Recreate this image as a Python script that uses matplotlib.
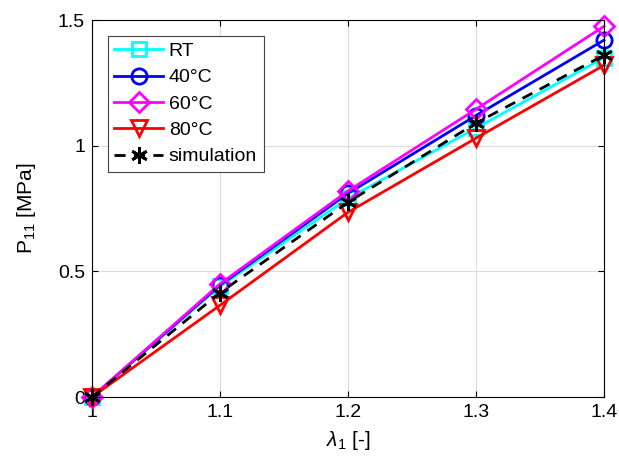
import matplotlib
matplotlib.use("Agg")
import matplotlib.pyplot as plt

plt.rcParams['font.family'] = ['Liberation Sans', 'DejaVu Sans']
plt.rcParams['mathtext.fontset'] = 'custom'
plt.rcParams['mathtext.rm'] = 'Liberation Sans'
plt.rcParams['mathtext.it'] = 'Liberation Sans:italic'

# stretch values and stress for each test temperature
stretch = [1.0, 1.1, 1.2, 1.3, 1.4]
p_rt = [0.0, 0.44, 0.79, 1.07, 1.35]
p_40 = [0.0, 0.445, 0.81, 1.12, 1.42]
p_60 = [0.0, 0.45, 0.82, 1.145, 1.475]
p_80 = [0.0, 0.365, 0.735, 1.03, 1.32]
p_sim = [0.0, 0.415, 0.775, 1.09, 1.36]

x_ticks = [1.0, 1.1, 1.2, 1.3, 1.4]
x_ticklabels = ['1', '1.1', '1.2', '1.3', '1.4']
y_ticks = [0.0, 0.5, 1.0, 1.5]
y_ticklabels = ['0', '0.5', '1', '1.5']

fig = plt.figure(figsize=(6.19, 4.74), dpi=100)
ax = fig.add_axes([0.1486, 0.1624, 0.8272, 0.7954])

#common line style for the measured curves
kw = dict(linewidth=2, markeredgewidth=2, markerfacecolor='none', clip_on=False)
ax.plot(stretch, p_rt, color='cyan', marker='s', markersize=10, label='RT', **kw)
ax.plot(stretch, p_40, color='blue', marker='o', markersize=11, label='40°C', **kw)
ax.plot(stretch, p_60, color='magenta', marker='D', markersize=10, label='60°C', **kw)
ax.plot(stretch, p_80, color='red', marker='v', markersize=12, label='80°C', **kw)
ax.plot(stretch, p_sim, color='black', linestyle='--', marker=(6, 2, 0), markersize=12,
        dashes=(4, 3), label='simulation', **kw)

ax.set_xlim(1.0, 1.4)
ax.set_ylim(0.0, 1.5)
ax.set_xticks(x_ticks)
ax.set_xticklabels(x_ticklabels)
ax.set_yticks(y_ticks)
ax.set_yticklabels(y_ticklabels)
ax.tick_params(direction='in', labelsize=14, length=4, top=True, right=True, pad=5)
ax.grid(True, color='#dcdcdc', linewidth=0.8)
ax.set_axisbelow(True)
for s in ax.spines.values():
    s.set_linewidth(0.8)

ax.set_xlabel(r'$\lambda_{1}$ [-]', fontsize=15, labelpad=6)
ax.set_ylabel(r'P$_{11}$ [MPa]', fontsize=15, labelpad=14)

leg = ax.legend(loc='upper left', fontsize=14, fancybox=False, edgecolor='#444444',
                framealpha=1, handlelength=2.5, borderaxespad=0.8, labelspacing=0.45,
                handletextpad=0.3, borderpad=0.35)
leg.get_frame().set_linewidth(0.8)

fig.savefig('out.png', dpi=100)
